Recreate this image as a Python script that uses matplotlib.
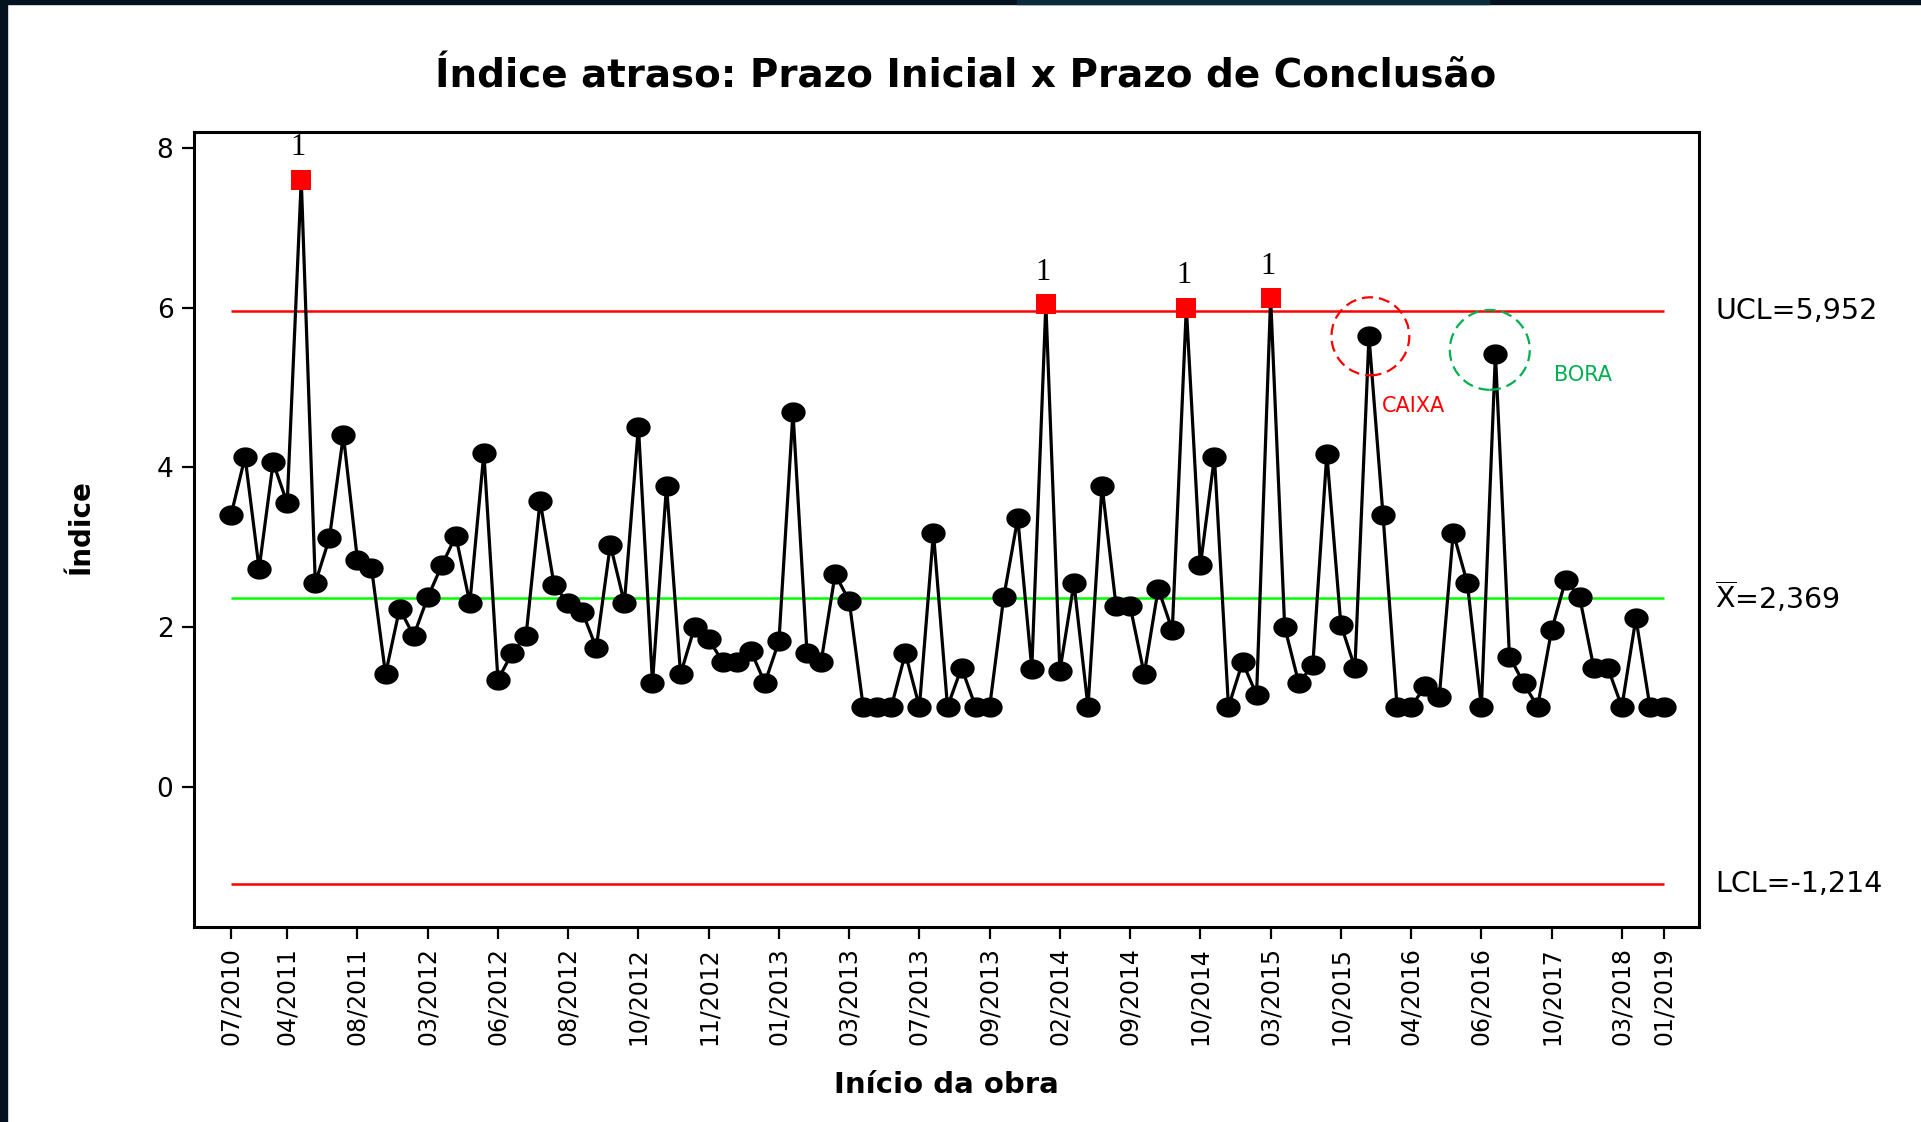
import matplotlib.pyplot as plt
import numpy as np
from matplotlib.path import Path
from matplotlib.patches import Ellipse, Rectangle

# dados (carta I de Minitab)
indice = [3.40, 4.13, 2.73, 4.06, 3.55, 7.60, 2.55, 3.11, 4.40, 2.84,
          2.74, 1.41, 2.23, 1.89, 2.37, 2.77, 3.14, 2.30, 4.18, 1.34,
          1.67, 1.89, 3.58, 2.52, 2.30, 2.19, 1.74, 3.03, 2.30, 4.51,
          1.30, 3.77, 1.41, 2.00, 1.85, 1.56, 1.56, 1.70, 1.30, 1.82,
          4.69, 1.67, 1.56, 2.66, 2.33, 1.00, 1.00, 1.00, 1.67, 1.00,
          3.18, 1.00, 1.49, 1.00, 1.00, 2.37, 3.36, 1.48, 6.04, 1.45,
          2.55, 1.00, 3.77, 2.26, 2.26, 1.41, 2.48, 1.96, 6.00, 2.77,
          4.13, 1.00, 1.56, 1.15, 6.12, 2.00, 1.30, 1.52, 4.17, 2.03,
          1.49, 5.64, 3.40, 1.00, 1.00, 1.26, 1.12, 3.18, 2.55, 1.00,
          5.42, 1.63, 1.30, 1.00, 1.96, 2.59, 2.37, 1.49, 1.49, 1.00,
          2.11, 1.00, 1.00]
fora_controle = [6, 59, 69, 75]   # pontos acima do UCL

ucl = 5.952
media = 2.369
lcl = -1.214

tick_obs = [1, 5, 10, 15, 20, 25, 30, 35, 40, 45, 50, 55, 60, 65, 70, 75,
            80, 85, 90, 95, 100, 103]
tick_datas = ['07/2010', '04/2011', '08/2011', '03/2012', '06/2012', '08/2012',
              '10/2012', '11/2012', '01/2013', '03/2013', '07/2013', '09/2013',
              '02/2014', '09/2014', '10/2014', '03/2015', '10/2015', '04/2016',
              '06/2016', '10/2017', '03/2018', '01/2019']

obs = np.arange(1, len(indice) + 1)
y = np.array(indice)

fig = plt.figure(figsize=(19.21, 11.22), dpi=100)
ax = fig.add_axes([0.1008, 0.1738, 0.7837, 0.7086])

# moldura escura da captura de tela
fig.patches.append(Rectangle((0, 0), 7 / 1921, 1, transform=fig.transFigure,
                             color='#03121e', zorder=0))
fig.patches.append(Rectangle((0, 1 - 4 / 1122), 1, 4 / 1122, transform=fig.transFigure,
                             color='#03121e', zorder=0))
fig.patches.append(Rectangle((1017 / 1921, 1 - 4 / 1122), 472 / 1921, 4 / 1122,
                             transform=fig.transFigure, color='#0b2a3c', zorder=0))

# marcador oval
t = np.linspace(0, 2 * np.pi, 60)
oval = Path(np.column_stack([1.2 * np.cos(t), np.sin(t)]), closed=True)

ax.hlines([ucl, lcl], 1, len(indice), color='#ff0000', lw=1.8, zorder=1)
ax.hlines(media, 1, len(indice), color='#00ff00', lw=1.8, zorder=1)

ax.plot(obs, y, color='black', lw=2.3, zorder=2)
normal = np.array([i not in fora_controle for i in obs])
ax.plot(obs[normal], y[normal], ls='none', marker=oval, ms=17.5,
        color='black', mew=0, zorder=3)
ax.plot(obs[~normal], y[~normal], ls='none', marker='s', ms=14.5,
        color='#ff0000', mew=0, zorder=3)
for i in fora_controle:
    ax.annotate('1', xy=(i, indice[i - 1]), xytext=(-2, 23), textcoords='offset points',
                ha='center', va='center', fontsize=22, family='Liberation Serif')

# destaques CAIXA e BORA
ax.add_patch(Ellipse((82.1, 5.64), 5.54, 0.977, fill=False, ec='#ff0000',
                     lw=1.6, ls=(0, (5, 2.7)), zorder=4))
ax.add_patch(Ellipse((90.6, 5.47), 5.69, 1.0, fill=False, ec='#00b050',
                     lw=1.6, ls=(0, (5, 2.7)), zorder=4))
ax.text(85.15, 4.77, 'CAIXA', color='#ff0000', fontsize=15, ha='center', va='center')
ax.text(97.23, 5.16, 'BORA', color='#00b050', fontsize=15, ha='center', va='center')

# rótulos dos limites
tr = ax.get_yaxis_transform()
ax.text(1.0106, ucl, 'UCL=5,952', transform=tr, fontsize=20.5, va='center')
ax.text(1.0106, media, r'$\overline{\mathrm{X}}$=2,369', transform=tr, fontsize=20.5, va='center')
ax.text(1.0106, lcl, 'LCL=-1,214', transform=tr, fontsize=20.5, va='center')

ax.set_xlim(-1.66, 105.5)
ax.set_ylim(-1.757, 8.199)
ax.set_yticks([0, 2, 4, 6, 8])
ax.set_xticks(tick_obs)
ax.set_xticklabels(tick_datas, rotation=90)
ax.tick_params(direction='out', length=8.5, width=1.6, labelsize=17, pad=6)
ax.tick_params(axis='y', labelsize=19)
for s in ax.spines.values():
    s.set_linewidth(2.2)

fig.text(0.5026, 0.9314, 'Índice atraso: Prazo Inicial x Prazo de Conclusão',
         ha='center', va='center', fontsize=28, fontweight='bold')
fig.text(0.4925, 0.033, 'Início da obra', ha='center', va='center',
         fontsize=21, fontweight='bold')
fig.text(0.0421, 0.5305, 'Índice', ha='center', va='center', rotation=90,
         fontsize=20, fontweight='bold')

fig.savefig('out.png', dpi=100)
